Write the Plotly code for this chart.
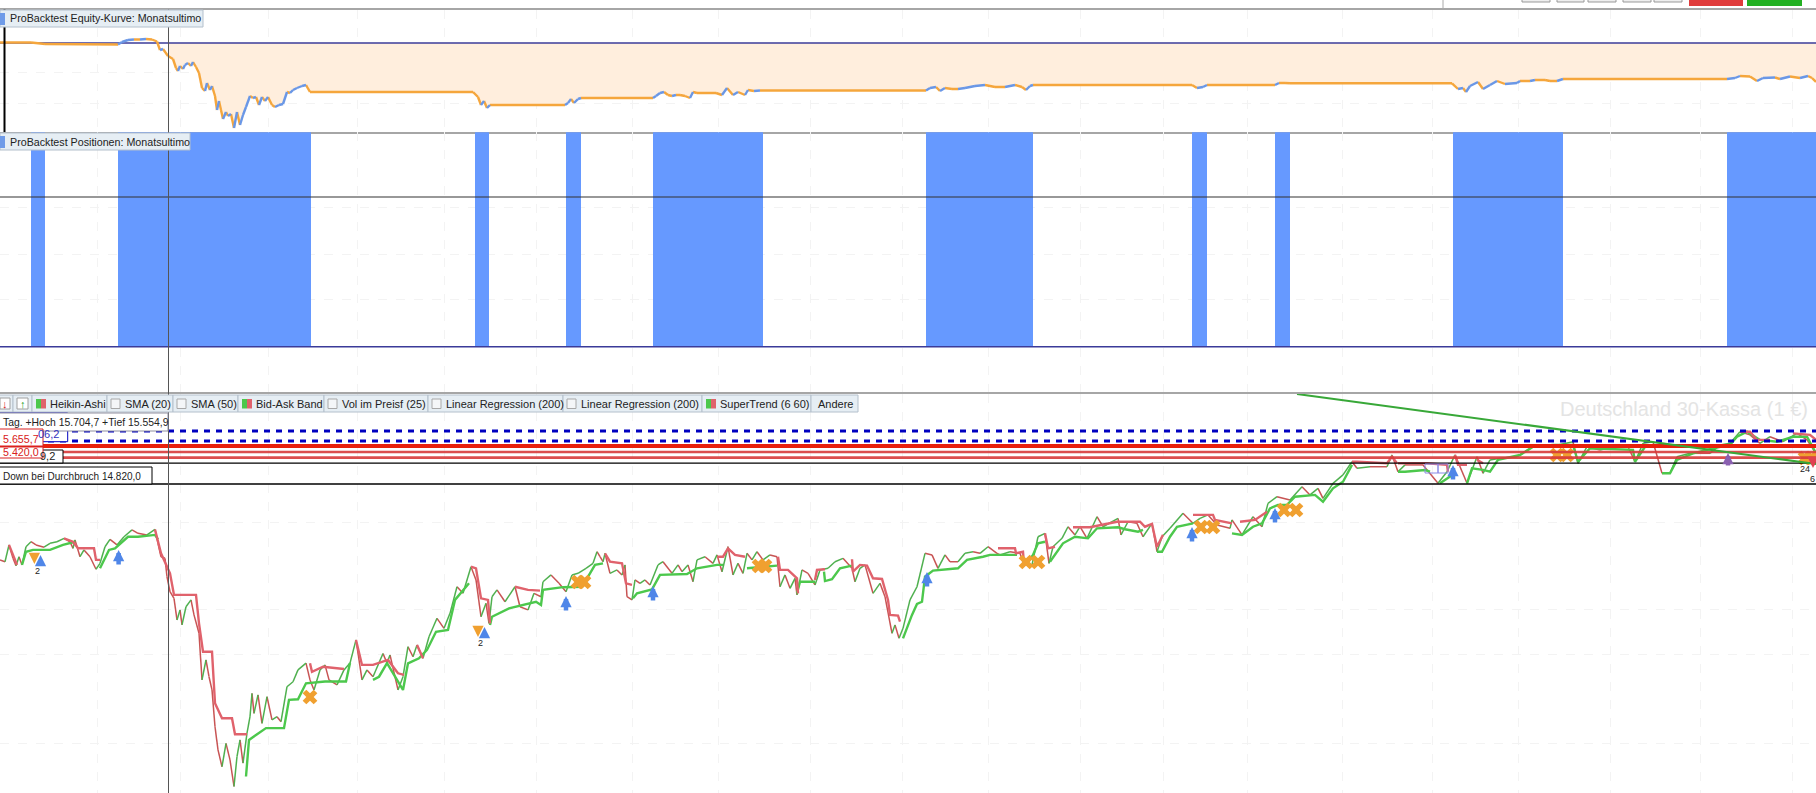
import plotly.graph_objects as go

W, H = 1816, 793

# ---------- data ----------
bar_index_grid = [97,180,268,357,444,536,632,718,810,902,988,1080,1163,1247,1342,1432,1518,1610,1700,1792]

equity_x = [0,31,45,118,122,128,134,140,146,152,157,160,163,168,173,176,178,180,183,185,188,191,193,196,199,202,205,207,210,212,215,217,219,221,223,226,228,231,234,237,240,243,246,250,253,256,259,262,265,268,272,275,279,283,287,290,293,297,302,306,310,473,478,481,484,487,490,565,568,571,574,578,581,653,656,660,664,668,672,676,680,685,690,693,697,710,716,722,727,733,738,745,748,754,760,926,930,936,940,945,952,958,965,975,985,995,1005,1015,1022,1026,1030,1033,1192,1197,1203,1207,1275,1279,1285,1290,1452,1458,1463,1466,1470,1478,1483,1490,1497,1505,1517,1520,1530,1535,1545,1550,1557,1563,1727,1735,1740,1750,1757,1763,1775,1780,1790,1800,1808,1812,1816]
equity_v = [50,50,-100,-150,100,300,350,350,400,350,150,-700,-600,-1300,-1600,-2500,-2800,-2300,-2600,-2200,-2000,-2300,-1900,-2400,-3000,-4500,-4800,-4000,-4700,-4300,-5300,-6700,-5800,-6700,-7600,-6900,-7300,-7100,-8500,-6900,-8200,-7200,-6400,-5300,-5500,-5400,-6200,-5400,-5800,-5400,-6200,-6400,-6200,-6100,-4900,-5000,-4700,-4500,-4300,-4200,-4900,-4900,-5400,-6200,-5800,-6500,-6200,-6200,-6000,-5600,-6000,-5600,-5500,-5500,-5300,-5000,-4900,-5200,-5300,-5200,-5200,-5300,-5500,-4900,-5000,-5000,-5000,-5200,-4500,-5200,-4900,-5200,-4700,-4800,-4750,-4750,-4500,-4400,-4800,-4500,-4600,-4600,-4500,-4300,-4200,-4400,-4400,-4200,-4400,-4700,-4300,-4200,-4200,-4500,-4400,-4200,-4200,-4000,-4000,-4030,-4030,-4600,-4500,-4900,-4300,-3900,-4600,-4200,-3800,-4100,-4000,-3800,-3800,-3700,-3700,-3800,-3800,-3600,-3600,-3500,-3300,-3350,-3800,-3500,-3450,-3600,-3350,-3500,-3300,-3500,-3900]

position_start = [31,118,475,566,653,926,1192,1275,1453,1727]
position_end = [45,311,489,581,763,1033,1207,1290,1563,1816]
position_size = [1.5,1.5,1.5,1.5,1.5,1.5,1.5,1.5,1.5,1.5]

close_x = [0,5,9,13,16,19,22,26,31,36,44,50,57,64,70,73,75,80,84,90,96,100,105,110,117,124,132,138,147,155,158,161,165,167,170,174,177,180,182,186,191,194,199,202,206,209,212,215,218,222,226,230,234,237,240,243,247,250,252,254,258,262,267,272,277,281,287,293,298,306,310,314,320,325,329,337,344,350,356,362,367,373,383,387,390,398,403,408,413,417,423,429,437,444,450,457,463,471,476,481,486,489,492,497,505,515,520,528,534,541,543,551,559,566,572,578,586,593,597,
600,603,605,610,617,622,625,627,632,635,640,645,650,658,663,672,678,682,688,693,697,705,713,717,722,728,733,738,743,747,752,757,763,770,777,780,785,790,795,797,802,808,815,820,828,835,843,852,855,860,865,873,880,885,892,895,899,903,910,917,925,932,938,945,950,958,965,973,980,988,997,
1000,1010,1020,1024,1032,1038,1045,1049,1053,1062,1068,1075,1080,1087,1097,1103,1118,1121,1128,1137,1143,1152,1157,1162,1170,1183,1193,1200,1208,1217,1230,1232,1242,1253,1262,1268,1277,1290,1302,1310,1318,1323,1333,1343,1352,1357,1370,1380,1387,1392,1398,1405,1423,1438,1447,1455,1467,1477,1483,1490,1500,
1517,1533,1547,1558,1573,1578,1587,1600,1613,1628,1635,1643,1653,1662,1670,1677,1690,1710,1720,1730,1740,1750,1760,1770,1783,1797,1807,1816]
close_px = [13150,13110,13480,13185,13020,13220,13040,13440,13550,13480,13430,13515,13550,13625,13550,13405,13590,13220,13370,13220,12945,13075,13440,13600,13480,13660,13810,13735,13700,13820,13515,13220,13185,12780,12450,12305,11830,12050,11720,12120,12270,11940,11535,10510,10950,10580,10290,9480,8970,8600,9115,8750,8165,8825,9190,8680,9340,9700,10215,9775,10180,9555,10140,9630,9700,9590,10360,10470,10730,10880,10510,10290,10730,10840,10510,10400,10730,10880,11390,10510,10730,10580,11090,10880,11060,10290,10580,11240,11020,11280,10985,11460,11865,11645,11975,12560,12415,13000,12710,11900,12195,11755,12340,12490,12230,12560,12120,12050,12415,12340,12670,12820,12635,12450,12820,12855,12965,13075,13330,
13220,13110,13295,12855,12930,12820,13040,12340,12270,12710,12635,12710,12600,13040,13110,12855,13040,12890,13040,12670,13150,13220,13075,13260,12890,13440,12820,13075,12855,13295,13150,13330,13150,13260,13220,12560,12820,12525,12745,12380,12930,12855,12600,12930,12965,13110,13185,12965,12670,12965,13040,12415,12635,12340,11535,11720,11425,11645,12270,12560,13295,13260,12965,13260,13110,13110,13295,13330,13295,13440,13295,
13260,13330,13295,13040,13040,13660,13735,13075,13440,13625,13880,13700,13880,13625,14100,13880,14065,13700,13990,13955,13660,13955,13330,13660,13845,14175,13955,14065,14140,13920,13845,14030,13700,14100,13880,14395,14540,14470,14760,14580,14725,14505,14835,15020,15310,15165,15200,15200,15200,15460,15090,15240,15240,14835,15090,15460,14835,15420,15055,15350,15385,
15420,15640,15640,15680,15750,15275,15640,15570,15640,15640,15310,15715,15750,15055,15055,15420,15495,15495,15680,15715,15970,15900,15715,15860,15750,15935,15790,15495]

st_up_x = [22,26,33,50,63,75,None,100,109,115,128,138,155,158,None,246,249,256,266,284,289,298,306,325,346,350,None,373,379,387,403,408,419,427,436,448,455,469,None,490,492,509,515,536,541,543,563,582,590,595,603,None,633,637,652,660,687,697,717,723,None,747,777,None,797,800,815,None,824,825,832,840,852,None,903,912,917,922,925,933,958,967,983,990,1017,None,1027,1033,1038,1045,None,1050,1055,1063,1075,1088,1097,1118,1125,1138,1143,None,1157,1162,1170,1177,1193,None,1232,1242,1253,1262,1270,1278,1287,1295,1315,1323,1333,1343,1352,None,1398,1405,1425,1430,None,1440,1447,1455,None,1467,1472,1483,1490,1498,1520,1533,1553,1573,1578,1590,1633,1635,1645,1660,None,1662,1670,1677,1693,1713,1730,1737,1747,1760,1777,1793,1807,1816]
st_up_px = [13040,13330,13370,13370,13480,13550,None,12965,13370,13405,13660,13660,13700,13600,None,8385,9190,9300,9450,9450,10070,10085,10435,10475,10475,10880,None,10510,10580,10880,10290,10875,10985,11170,11570,11610,12270,12635,None,11720,11900,12085,12120,12230,12160,12490,12550,12560,12855,13040,13075,None,12305,12415,12500,12820,12840,12965,13040,13040,None,12965,13025,None,12415,12670,12670,None,12890,12685,12725,12965,13025,None,11425,11940,12180,12230,12780,12915,12965,13150,13220,13260,13260,None,13075,13260,13515,13550,None,13110,13260,13515,13660,13625,13845,13868,13825,13770,13810,None,13330,13330,13660,13880,13955,None,13735,13700,13880,13955,14285,14360,14360,14540,14580,14430,14725,14870,15240,None,15090,15090,15128,15090,None,14835,14945,15055,None,14835,15165,15130,15090,15350,15458,15640,15680,15680,15310,15605,15570,15310,15640,15680,None,15055,15055,15350,15495,15605,15680,15860,15970,15790,15750,15860,15860,15495]

st_down_x = [9,13,17,None,64,73,78,94,96,100,None,155,161,170,174,196,199,203,212,215,222,232,235,247,None,310,312,323,344,None,356,362,373,388,398,404,None,417,423,None,471,476,481,488,490,None,515,528,540,None,605,610,622,626,632,None,717,723,728,735,745,None,778,780,788,797,798,None,815,817,825,None,852,853,860,867,873,882,888,890,898,900,None,998,1015,1016,1023,1024,None,1045,1048,1055,None,1073,1090,1117,1140,1145,1152,1157,1163,None,1193,1213,1215,1230,1232,None,1240,1255,1267,None,1352,1357,1387,1392,1397,None,1398,1427,1447,1448,None,1455,1458,1467,None,1477,1483,None,1740,1750,1757,1770,None,1793,1810,1816]
st_down_px = [13480,13260,13040,None,13625,13550,13405,13405,13150,13150,None,13820,13295,12855,12380,12380,11755,11130,11130,9995,9665,9665,9315,9315,None,10875,10690,10800,10750,None,11390,10840,10840,10950,10655,10620,None,11280,10985,None,13000,12965,12305,12270,11755,None,12560,12490,12475,None,13295,13110,13075,12635,12600,None,13220,13220,13405,13260,13220,None,13220,12930,12930,12745,12415,None,12710,12930,12945,None,13165,12890,13040,13025,12745,12730,12270,11940,11925,11790,None,13405,13405,13295,13330,13075,None,13735,13405,13440,None,13868,13868,13990,13990,13880,13940,13440,13700,None,14140,14140,14030,13955,13955,None,13990,14030,14210,None,15310,15310,15275,15420,15275,None,15275,15275,15240,15090,None,15460,15240,15240,None,15350,15275,None,15970,15970,15790,15790,None,15935,15900,15790]

exit_x = [310,578,584,759,765,1026,1038,1201,1213,1284,1296,1557,1567,1805,1811]
exit_px = [10134,12664,12664,13016,13016,13104,13104,13874,13874,14248,14248,15458,15458,15392,15392]

entry_x = [118.6,566,653,927,1192,1275,1453]
entry_px = [13368,12356,12576,12884,13874,14292,15238]
small_up_x = [40.5,484.5]
small_up_px = [13258,11674]
small_down_x = [34.4,478]
small_down_px = [13060,11454]

levels_blue = [15984.0,15764.0]
levels_red_strong = [15655.7]
levels_red = [15524.0,15400.0]
levels_black = [15279.2,14820.0]
trend_x = [1297,1816]
trend_px = [16800,15260]

legend_items = ["Heikin-Ashi","SMA (20)","SMA (50)","Bid-Ask Band","Vol im Preisf (25)","Linear Regression (200)","Linear Regression (200)","SuperTrend (6 60)","Andere"]

# ---------- styling ----------
FONT = "Liberation Sans"
BLUE_EQ, ORANGE_EQ = "#6a97e6", "#f5a63c"
GREEN_P, RED_P = "#4fb04f", "#c85454"
GREEN_ST, RED_ST = "#4cc84c", "#e0626c"
NAVY = "#3b3b99"
GRID = "#f3f3f3"

def py(y):
    return 1 - y / H

def px_(x):
    return x / W

def split_updown(xs, ys):
    ux, uy, dx, dy = [], [], [], []
    for i in range(len(xs) - 1):
        if ys[i + 1] > ys[i]:
            ux += [xs[i], xs[i + 1], None]; uy += [ys[i], ys[i + 1], None]
        else:
            dx += [xs[i], xs[i + 1], None]; dy += [ys[i], ys[i + 1], None]
    return ux, uy, dx, dy

fig = go.Figure()

# equity panel
fill_x = [x for x in equity_x if x >= 168]
fill_v = [v for x, v in zip(equity_x, equity_v) if x >= 168]
fig.add_trace(go.Scatter(x=fill_x, y=[0] * len(fill_x), mode="lines", line=dict(width=0), xaxis="x", yaxis="y"))
fig.add_trace(go.Scatter(x=fill_x, y=fill_v, mode="lines", line=dict(width=0), fill="tonexty",
                         fillcolor="#ffeedd", xaxis="x", yaxis="y"))
fig.add_trace(go.Scatter(x=[0, W], y=[0, 0], mode="lines", line=dict(color=NAVY, width=1.5), xaxis="x", yaxis="y"))
ux, uy, dx, dy = split_updown(equity_x, equity_v)
fig.add_trace(go.Scatter(x=dx, y=dy, mode="lines", line=dict(color=ORANGE_EQ, width=2.4), xaxis="x", yaxis="y"))
fig.add_trace(go.Scatter(x=ux, y=uy, mode="lines", line=dict(color=BLUE_EQ, width=2.4), xaxis="x", yaxis="y"))

# positions panel
fig.add_trace(go.Bar(x=[(a + b) / 2 for a, b in zip(position_start, position_end)],
                     y=position_size,
                     width=[b - a for a, b in zip(position_start, position_end)],
                     marker=dict(color="#6699ff", line=dict(width=0)), xaxis="x2", yaxis="y2"))
fig.add_trace(go.Scatter(x=[0, W], y=[1, 1], mode="lines", line=dict(color="#333333", width=1.2), xaxis="x2", yaxis="y2"))
fig.add_trace(go.Scatter(x=[0, W], y=[0, 0], mode="lines", line=dict(color=NAVY, width=1.5), xaxis="x2", yaxis="y2"))

# price panel
ux, uy, dx, dy = split_updown(close_x, close_px)
fig.add_trace(go.Scatter(x=dx, y=dy, mode="lines", line=dict(color=RED_P, width=1.5), xaxis="x3", yaxis="y3"))
fig.add_trace(go.Scatter(x=ux, y=uy, mode="lines", line=dict(color=GREEN_P, width=1.5), xaxis="x3", yaxis="y3"))
fig.add_trace(go.Scatter(x=st_up_x, y=st_up_px, mode="lines", line=dict(color=GREEN_ST, width=2.4), xaxis="x3", yaxis="y3"))
fig.add_trace(go.Scatter(x=st_down_x, y=st_down_px, mode="lines", line=dict(color=RED_ST, width=2.4), xaxis="x3", yaxis="y3"))
fig.add_trace(go.Scatter(x=exit_x, y=exit_px, mode="markers",
                         marker=dict(symbol="x", size=13, color="#f0a030", line=dict(width=0)), xaxis="x3", yaxis="y3"))
for lv in levels_black:
    fig.add_trace(go.Scatter(x=[0, W], y=[lv, lv], mode="lines", line=dict(color="#000000", width=1.4), xaxis="x3", yaxis="y3"))
for lv in levels_red:
    fig.add_trace(go.Scatter(x=[0, W], y=[lv, lv], mode="lines", opacity=0.9, line=dict(color="#d83a3a", width=2.6), xaxis="x3", yaxis="y3"))
for lv in levels_red_strong:
    fig.add_trace(go.Scatter(x=[0, W], y=[lv, lv], mode="lines", line=dict(color="#e8200c", width=4), xaxis="x3", yaxis="y3"))
for lv in levels_blue:
    fig.add_trace(go.Scatter(x=[0, W], y=[lv, lv], mode="lines", line=dict(color="#0000c0", width=3, dash="6px,6px"), xaxis="x3", yaxis="y3"))
fig.add_trace(go.Scatter(x=trend_x, y=trend_px, mode="lines", line=dict(color="#38a838", width=2), xaxis="x3", yaxis="y3"))

# ---------- chrome ----------
shapes, annots = [], []

def rect(x0, y0, x1, y1, fill="rgba(0,0,0,0)", line=None, w=1):
    shapes.append(dict(type="rect", xref="paper", yref="paper", x0=px_(x0), x1=px_(x1), y0=py(y1), y1=py(y0),
                       fillcolor=fill, line=dict(color=line or fill, width=w if line else 0), layer="above"))

def text(x, y, s, color="#222222", size=11, anchor="left"):
    annots.append(dict(xref="paper", yref="paper", x=px_(x), y=py(y), text=s, showarrow=False, xanchor=anchor, yanchor="middle",
                       font=dict(family=FONT, size=size, color=color)))

def arrow(x, price, color, length, width=4.5, head=0.5):
    annots.append(dict(xref="x3", yref="y3", x=x, y=price, ax=0, ay=length, text="", showarrow=True,
                       arrowhead=2, arrowsize=head, arrowwidth=width, arrowcolor=color, standoff=0))

# crosshair and cursor
shapes.append(dict(type="line", xref="x", yref="paper", x0=168.5, x1=168.5, y0=0, y1=py(9.5), line=dict(color="#555555", width=1), layer="above"))
shapes.append(dict(type="line", xref="x", yref="paper", x0=4.5, x1=4.5, y0=py(132), y1=py(9.5), line=dict(color="#000000", width=2), layer="above"))

# window fragments on top
for a, b in [(1522, 1550), (1557, 1584), (1588, 1616), (1623, 1651), (1654, 1682)]:
    rect(a, -3, b, 2, "#eeeeee", "#999999")
rect(1689, -3, 1743, 6, "#e03c3c")
rect(1747, -3, 1802, 6, "#22b022")
shapes.append(dict(type="line", xref="paper", yref="paper", x0=px_(1443), x1=px_(1443), y0=py(0), y1=py(9), line=dict(color="#aaaaaa", width=1)))

# panel titles
for y0, y1, s, x1 in [(10, 27, "ProBacktest Equity-Kurve: Monatsultimo", 203), (133, 150, "ProBacktest Positionen: Monatsultimo", 190)]:
    rect(0, y0, x1, y1, "#e6eef4", "#b4c0cc")
    rect(0, y0 + 3, 5, y1 - 2, "#6f9be8")
    text(8, (y0 + y1) / 2, s, size=10.7)

# indicator strip
edges = [32, 107, 173, 238, 324, 428, 563, 702, 811, 858]
kinds = ["swatch", "check", "check", "swatch", "check", "check", "check", "swatch", "none"]
rect(-2, 395, 13, 412, "#e6eef4", "#b4c0cc")
rect(13, 395, 32, 412, "#e6eef4", "#b4c0cc")
rect(0, 398, 10, 409, "#ffffff", "#a0a0a0")
rect(17, 398, 28, 409, "#ffffff", "#a0a0a0")
text(5, 404, "↓", "#d82020", 11, "center")
text(22.5, 404, "↑", "#20a020", 11, "center")
for a, b, s, k in zip(edges[:-1], edges[1:], legend_items, kinds):
    rect(a, 395, b, 412, "#e6eef4", "#b4c0cc")
    if k == "swatch":
        rect(a + 4, 399, a + 9, 408.5, "#4cc84c")
        rect(a + 9, 399, a + 14, 408.5, "#e0626c")
    elif k == "check":
        rect(a + 4, 399, a + 13, 408.5, "#f4f6f8", "#a8a8a8")
    text(a + (16 if k != "none" else 5), 404, s)

# price labels
rect(-2, 413, 67.7, 441.7, "#ffffff", "#0000c0")
text(61, 434, "06,2", "#3030c0", 11, "right")
rect(-2, 413, 168, 431, "#ffffff", "#9090a0")
text(1, 422, "Tag. +Hoch 15.704,7 +Tief 15.554,9", "#222222", 10.4)
rect(-2, 450, 63, 463, "#ffffff", "#000000")
text(57, 456, "9,2", "#222222", 11, "right")
rect(-2, 429, 43, 446, "#ffffff", "#d82020")
text(1, 439, "5.655,7", "#d82020", 10.7)
rect(-2, 447, 43, 458, "#ffffff", "#d82020")
text(1, 452, "5.420,0", "#d82020", 10.7)
rect(-2, 467, 152, 484, "#ffffff", "#000000")
text(1, 476, "Down bei Durchbruch 14.820,0", "#222222", 10)

# watermark
text(1558, 409, "Deutschland 30-Kassa (1 €)", "#e4e4e4", 20)

# purple boxes
rect(1425, 464, 1438, 473, "rgba(0,0,0,0)", "#8a8ae6")
rect(1438, 464, 1448, 473, "rgba(0,0,0,0)", "#8a8ae6")

# trade arrows and counts
for x, p in zip(entry_x, entry_px):
    arrow(x, p, "#4f86e8", 16)
for x, p in zip(small_up_x, small_up_px):
    arrow(x, p, "#4f86e8", 10, 2.5, 0.9)
for x, p in zip(small_down_x, small_down_px):
    arrow(x, p, "#f0a030", -10, 2.5, 0.9)
arrow(1728, 15502, "#8a60b0", 14)
arrow(1813, 15170, "#e04050", -8, 2.5, 0.9)
text(37, 571, "2", "#222222", 9, "center")
text(481, 643, "2", "#222222", 9, "center")
text(1805, 469, "24", "#222222", 9, "center")
text(1812, 479, "6", "#222222", 9, "center")

xcommon = dict(range=[0, W], showticklabels=False, ticks="", tickvals=bar_index_grid, showgrid=True,
               gridcolor=GRID, griddash="dash", gridwidth=1, zeroline=False, fixedrange=True)
ycommon = dict(showticklabels=False, ticks="", showgrid=True, gridcolor=GRID, griddash="dash", gridwidth=1,
               zeroline=False, fixedrange=True)

fig.update_layout(
    width=W, height=H, margin=dict(l=0, r=0, t=0, b=0), showlegend=False,
    paper_bgcolor="#ffffff", plot_bgcolor="#ffffff", barmode="overlay",
    shapes=shapes, annotations=annots,
    xaxis=dict(xcommon, anchor="y", showline=True, linecolor="#a6a6a6", linewidth=1.5, mirror=True),
    yaxis=dict(ycommon, anchor="x", domain=[py(132.3), py(9.5)], range=[-8930, 3350], tickvals=[-2900, -6000]),
    xaxis2=dict(xcommon, anchor="y2"),
    yaxis2=dict(ycommon, anchor="x2", domain=[py(394), py(132.3)], range=[-0.316, 1.432], tickvals=[0.312, 0.613, 0.927]),
    xaxis3=dict(xcommon, anchor="y3", side="top", showline=True, linecolor="#a6a6a6", linewidth=1.5),
    yaxis3=dict(ycommon, anchor="x3", domain=[0, py(394)], range=[8022, 16800], tickvals=[13980, 12050, 11080, 9120]),
)

fig.write_html("out.html", config=dict(displayModeBar=False),
               post_script="document.body.style.margin='0';document.body.style.overflow='hidden';")
